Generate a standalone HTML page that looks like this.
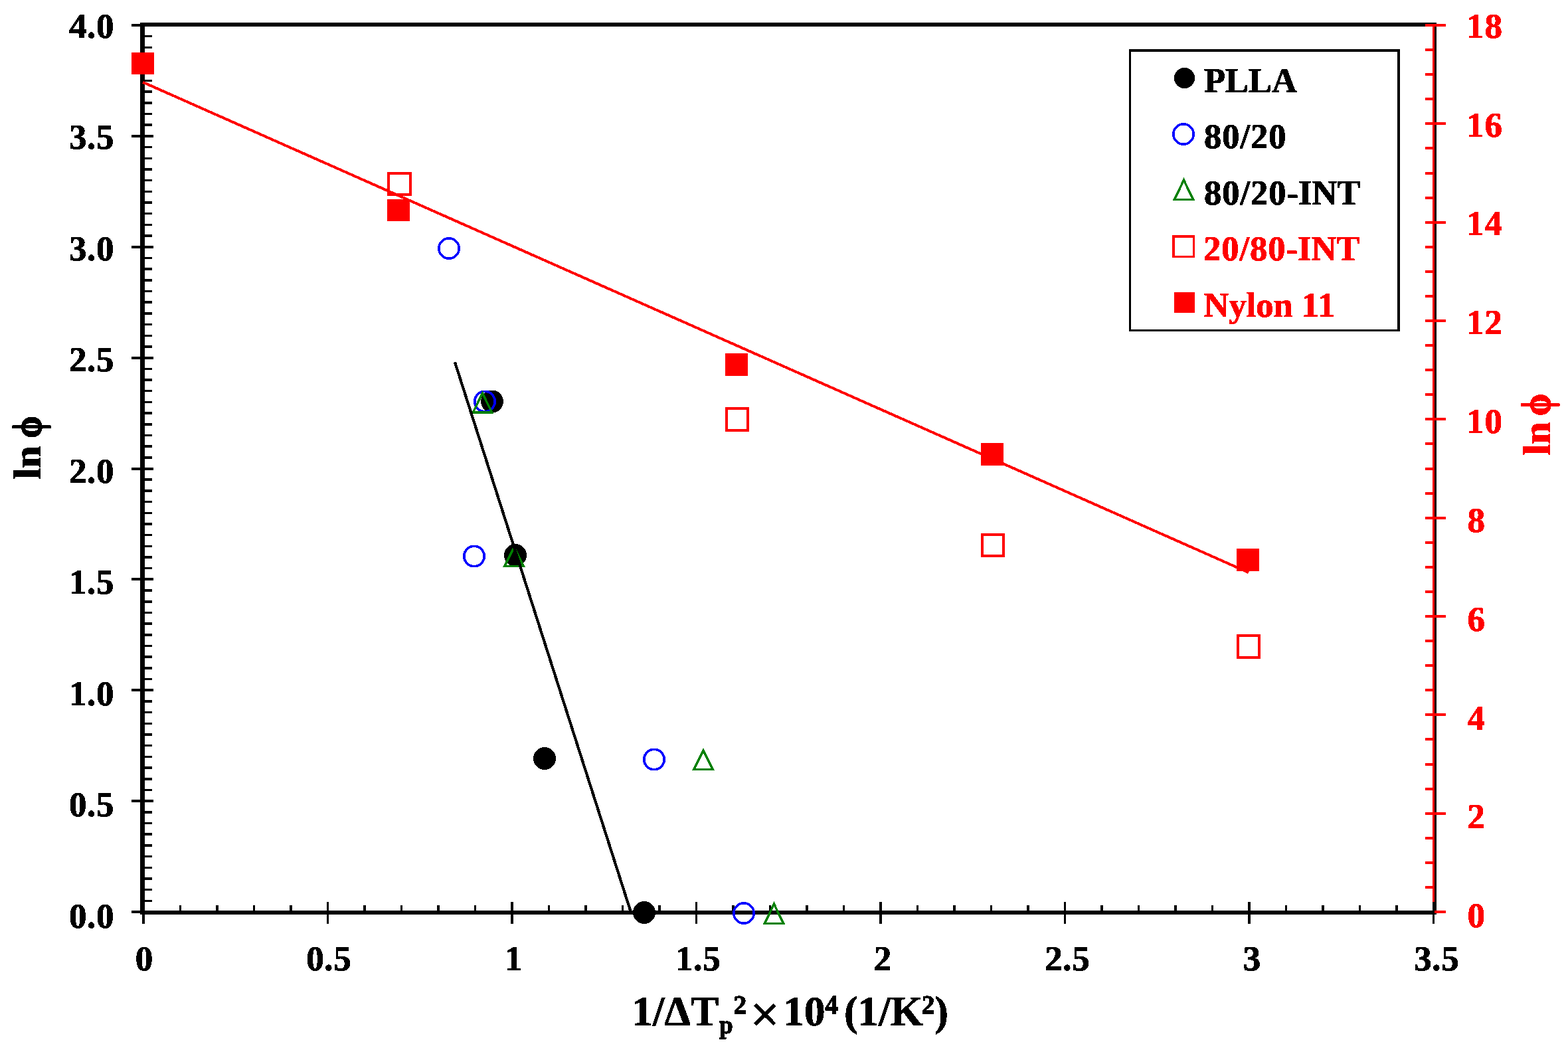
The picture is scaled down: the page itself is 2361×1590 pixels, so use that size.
<!DOCTYPE html>
<html lang="en"><head><meta charset="utf-8"><title>ln ϕ vs 1/ΔTp²</title>
<style>
html,body{margin:0;padding:0;background:#fff;}
body{width:2361px;height:1590px;overflow:hidden;}
svg{display:block;shape-rendering:crispEdges;}
text{font-family:"Liberation Serif","DejaVu Serif",serif;font-weight:bold;}
.tk{font-size:53px;letter-spacing:0.6px;}
.lg{font-size:52.5px;}
.ti{font-size:63px;}
.yt{font-size:60px;}
.sm{font-size:39.5px;stroke-width:0.9px;}
.sb{font-size:37px;stroke-width:0.9px;}
.mu{font-size:76px;font-weight:normal;stroke-width:1.6px;}
.ph{font-size:64.2px;stroke-width:1.2px;}
.ls{letter-spacing:1px;}
.k{fill:#000;stroke:#000;}.r{fill:#f00;stroke:#f00;}
text{stroke-width:0.6px;}
.ax{shape-rendering:crispEdges;}
</style></head><body>
<svg width="2361" height="1590" viewBox="0 0 2361 1590">
<rect width="2361" height="1590" fill="#fff"/>
<defs><filter id="hard" filterUnits="userSpaceOnUse" x="0" y="0" width="2361" height="1590" color-interpolation-filters="sRGB"><feComponentTransfer><feFuncA type="discrete" tableValues="0 1 1"/></feComponentTransfer></filter></defs>
<g class="ax" fill="#000">
<rect x="211" y="34" width="1952" height="6"/>
<rect x="211" y="1371" width="1952" height="6"/>
<rect x="211" y="34" width="7" height="1343"/>
<rect x="2157" y="34" width="6" height="1343"/>
<rect x="198" y="1371.00" width="33" height="4"/>
<rect x="217" y="1354.56" width="12" height="3.5"/>
<rect x="217" y="1337.88" width="12" height="3.5"/>
<rect x="217" y="1321.19" width="12" height="3.5"/>
<rect x="217" y="1304.50" width="12" height="3.5"/>
<rect x="217" y="1287.81" width="12" height="3.5"/>
<rect x="217" y="1271.12" width="12" height="3.5"/>
<rect x="217" y="1254.44" width="12" height="3.5"/>
<rect x="217" y="1237.75" width="12" height="3.5"/>
<rect x="217" y="1221.06" width="12" height="3.5"/>
<rect x="198" y="1204.12" width="33" height="4"/>
<rect x="217" y="1187.69" width="12" height="3.5"/>
<rect x="217" y="1171.00" width="12" height="3.5"/>
<rect x="217" y="1154.31" width="12" height="3.5"/>
<rect x="217" y="1137.62" width="12" height="3.5"/>
<rect x="217" y="1120.94" width="12" height="3.5"/>
<rect x="217" y="1104.25" width="12" height="3.5"/>
<rect x="217" y="1087.56" width="12" height="3.5"/>
<rect x="217" y="1070.88" width="12" height="3.5"/>
<rect x="217" y="1054.19" width="12" height="3.5"/>
<rect x="198" y="1037.25" width="33" height="4"/>
<rect x="217" y="1020.81" width="12" height="3.5"/>
<rect x="217" y="1004.12" width="12" height="3.5"/>
<rect x="217" y="987.44" width="12" height="3.5"/>
<rect x="217" y="970.75" width="12" height="3.5"/>
<rect x="217" y="954.06" width="12" height="3.5"/>
<rect x="217" y="937.38" width="12" height="3.5"/>
<rect x="217" y="920.69" width="12" height="3.5"/>
<rect x="217" y="904.00" width="12" height="3.5"/>
<rect x="217" y="887.31" width="12" height="3.5"/>
<rect x="198" y="870.38" width="33" height="4"/>
<rect x="217" y="853.94" width="12" height="3.5"/>
<rect x="217" y="837.25" width="12" height="3.5"/>
<rect x="217" y="820.56" width="12" height="3.5"/>
<rect x="217" y="803.87" width="12" height="3.5"/>
<rect x="217" y="787.19" width="12" height="3.5"/>
<rect x="217" y="770.50" width="12" height="3.5"/>
<rect x="217" y="753.81" width="12" height="3.5"/>
<rect x="217" y="737.12" width="12" height="3.5"/>
<rect x="217" y="720.44" width="12" height="3.5"/>
<rect x="198" y="703.50" width="33" height="4"/>
<rect x="217" y="687.06" width="12" height="3.5"/>
<rect x="217" y="670.38" width="12" height="3.5"/>
<rect x="217" y="653.69" width="12" height="3.5"/>
<rect x="217" y="637.00" width="12" height="3.5"/>
<rect x="217" y="620.31" width="12" height="3.5"/>
<rect x="217" y="603.62" width="12" height="3.5"/>
<rect x="217" y="586.94" width="12" height="3.5"/>
<rect x="217" y="570.25" width="12" height="3.5"/>
<rect x="217" y="553.56" width="12" height="3.5"/>
<rect x="198" y="536.62" width="33" height="4"/>
<rect x="217" y="520.19" width="12" height="3.5"/>
<rect x="217" y="503.50" width="12" height="3.5"/>
<rect x="217" y="486.81" width="12" height="3.5"/>
<rect x="217" y="470.12" width="12" height="3.5"/>
<rect x="217" y="453.44" width="12" height="3.5"/>
<rect x="217" y="436.75" width="12" height="3.5"/>
<rect x="217" y="420.06" width="12" height="3.5"/>
<rect x="217" y="403.37" width="12" height="3.5"/>
<rect x="217" y="386.69" width="12" height="3.5"/>
<rect x="198" y="369.75" width="33" height="4"/>
<rect x="217" y="353.31" width="12" height="3.5"/>
<rect x="217" y="336.62" width="12" height="3.5"/>
<rect x="217" y="319.94" width="12" height="3.5"/>
<rect x="217" y="303.25" width="12" height="3.5"/>
<rect x="217" y="286.56" width="12" height="3.5"/>
<rect x="217" y="269.88" width="12" height="3.5"/>
<rect x="217" y="253.19" width="12" height="3.5"/>
<rect x="217" y="236.50" width="12" height="3.5"/>
<rect x="217" y="219.81" width="12" height="3.5"/>
<rect x="198" y="202.88" width="33" height="4"/>
<rect x="217" y="186.44" width="12" height="3.5"/>
<rect x="217" y="169.75" width="12" height="3.5"/>
<rect x="217" y="153.06" width="12" height="3.5"/>
<rect x="217" y="136.38" width="12" height="3.5"/>
<rect x="217" y="119.69" width="12" height="3.5"/>
<rect x="217" y="103.00" width="12" height="3.5"/>
<rect x="217" y="86.31" width="12" height="3.5"/>
<rect x="217" y="69.62" width="12" height="3.5"/>
<rect x="217" y="52.94" width="12" height="3.5"/>
<rect x="198" y="36.00" width="33" height="4"/>
<rect x="214.25" y="1358" width="3.5" height="33"/>
<rect x="269.75" y="1363" width="3.5" height="9"/>
<rect x="325.25" y="1363" width="3.5" height="9"/>
<rect x="380.75" y="1363" width="3.5" height="9"/>
<rect x="436.25" y="1363" width="3.5" height="9"/>
<rect x="491.75" y="1358" width="3.5" height="33"/>
<rect x="547.25" y="1363" width="3.5" height="9"/>
<rect x="602.75" y="1363" width="3.5" height="9"/>
<rect x="658.25" y="1363" width="3.5" height="9"/>
<rect x="713.75" y="1363" width="3.5" height="9"/>
<rect x="769.25" y="1358" width="3.5" height="33"/>
<rect x="824.75" y="1363" width="3.5" height="9"/>
<rect x="880.25" y="1363" width="3.5" height="9"/>
<rect x="935.75" y="1363" width="3.5" height="9"/>
<rect x="991.25" y="1363" width="3.5" height="9"/>
<rect x="1046.75" y="1358" width="3.5" height="33"/>
<rect x="1102.25" y="1363" width="3.5" height="9"/>
<rect x="1157.75" y="1363" width="3.5" height="9"/>
<rect x="1213.25" y="1363" width="3.5" height="9"/>
<rect x="1268.75" y="1363" width="3.5" height="9"/>
<rect x="1324.25" y="1358" width="3.5" height="33"/>
<rect x="1379.75" y="1363" width="3.5" height="9"/>
<rect x="1435.25" y="1363" width="3.5" height="9"/>
<rect x="1490.75" y="1363" width="3.5" height="9"/>
<rect x="1546.25" y="1363" width="3.5" height="9"/>
<rect x="1601.75" y="1358" width="3.5" height="33"/>
<rect x="1657.25" y="1363" width="3.5" height="9"/>
<rect x="1712.75" y="1363" width="3.5" height="9"/>
<rect x="1768.25" y="1363" width="3.5" height="9"/>
<rect x="1823.75" y="1363" width="3.5" height="9"/>
<rect x="1879.25" y="1358" width="3.5" height="33"/>
<rect x="1934.75" y="1363" width="3.5" height="9"/>
<rect x="1990.25" y="1363" width="3.5" height="9"/>
<rect x="2045.75" y="1363" width="3.5" height="9"/>
<rect x="2101.25" y="1363" width="3.5" height="9"/>
<rect x="2156.75" y="1358" width="3.5" height="33"/>
</g>
<g class="ax" fill="#f00">
<rect x="2157" y="36" width="3" height="1322"/>
<rect x="2160" y="1371.00" width="17" height="4"/>
<rect x="2146" y="1333.92" width="12" height="4"/>
<rect x="2146" y="1296.83" width="12" height="4"/>
<rect x="2146" y="1259.75" width="12" height="4"/>
<rect x="2146" y="1222.67" width="31" height="4"/>
<rect x="2146" y="1185.58" width="12" height="4"/>
<rect x="2146" y="1148.50" width="12" height="4"/>
<rect x="2146" y="1111.42" width="12" height="4"/>
<rect x="2146" y="1074.33" width="31" height="4"/>
<rect x="2146" y="1037.25" width="12" height="4"/>
<rect x="2146" y="1000.17" width="12" height="4"/>
<rect x="2146" y="963.08" width="12" height="4"/>
<rect x="2146" y="926.00" width="31" height="4"/>
<rect x="2146" y="888.92" width="12" height="4"/>
<rect x="2146" y="851.83" width="12" height="4"/>
<rect x="2146" y="814.75" width="12" height="4"/>
<rect x="2146" y="777.67" width="31" height="4"/>
<rect x="2146" y="740.58" width="12" height="4"/>
<rect x="2146" y="703.50" width="12" height="4"/>
<rect x="2146" y="666.42" width="12" height="4"/>
<rect x="2146" y="629.33" width="31" height="4"/>
<rect x="2146" y="592.25" width="12" height="4"/>
<rect x="2146" y="555.17" width="12" height="4"/>
<rect x="2146" y="518.08" width="12" height="4"/>
<rect x="2146" y="481.00" width="31" height="4"/>
<rect x="2146" y="443.92" width="12" height="4"/>
<rect x="2146" y="406.83" width="12" height="4"/>
<rect x="2146" y="369.75" width="12" height="4"/>
<rect x="2146" y="332.67" width="31" height="4"/>
<rect x="2146" y="295.58" width="12" height="4"/>
<rect x="2146" y="258.50" width="12" height="4"/>
<rect x="2146" y="221.42" width="12" height="4"/>
<rect x="2146" y="184.33" width="31" height="4"/>
<rect x="2146" y="147.25" width="12" height="4"/>
<rect x="2146" y="110.17" width="12" height="4"/>
<rect x="2146" y="73.08" width="12" height="4"/>
<rect x="2146" y="36.00" width="31" height="4"/>
</g>
<rect class="ax" x="2157" y="1358" width="3" height="33" fill="#000"/>
<g filter="url(#hard)">
<g class="tk k" text-anchor="end">
<text x="172" y="1396.5">0.0</text>
<text x="172" y="1229.0">0.5</text>
<text x="172" y="1061.5">1.0</text>
<text x="172" y="894.0">1.5</text>
<text x="172" y="726.5">2.0</text>
<text x="172" y="559.0">2.5</text>
<text x="172" y="391.5">3.0</text>
<text x="172" y="224.0">3.5</text>
<text x="172" y="56.5">4.0</text>
</g>
<g class="tk r">
<text x="2209.5" y="1396.2">0</text>
<text x="2209.5" y="1247.4">2</text>
<text x="2209.5" y="1098.5">4</text>
<text x="2209.5" y="949.7">6</text>
<text x="2209.5" y="800.8">8</text>
<text x="2208" y="652.0" class="ls">10</text>
<text x="2208" y="503.2" class="ls">12</text>
<text x="2208" y="354.3" class="ls">14</text>
<text x="2208" y="205.5" class="ls">16</text>
<text x="2208" y="56.6" class="ls">18</text>
</g>
<g class="tk k" text-anchor="middle">
<text x="217.3" y="1460.7">0</text>
<text x="495.3" y="1460.7">0.5</text>
<text x="773.3" y="1460.7">1</text>
<text x="1051.3" y="1460.7">1.5</text>
<text x="1329.3" y="1460.7">2</text>
<text x="1607.3" y="1460.7">2.5</text>
<text x="1885.3" y="1460.7">3</text>
<text x="2163.3" y="1460.7">3.5</text>
</g>
<text class="yt k" transform="translate(61,721.5) rotate(-90)"><tspan x="0" y="0">ln </tspan><tspan class="ph" x="62" y="0.6" textLength="33.1" lengthAdjust="spacingAndGlyphs">ϕ</tspan></text>
<text class="yt r" transform="translate(2334,685.5) rotate(-90)"><tspan x="0" y="0">ln </tspan><tspan class="ph" x="59.5" y="0.1" textLength="33.1" lengthAdjust="spacingAndGlyphs">ϕ</tspan></text>
<text class="ti k"><tspan x="951.5" y="1544">1/ΔT</tspan><tspan class="sb" x="1083" y="1556">p</tspan><tspan class="sm" x="1104.5" y="1525.7">2</tspan><tspan class="mu" x="1130.2" y="1553.2">×</tspan><tspan x="1179.6" y="1544">10</tspan><tspan class="sm" x="1242.3" y="1525.7">4</tspan><tspan x="1270.9" y="1544">(1/K</tspan><tspan class="sm" x="1387.7" y="1525.7">2</tspan><tspan x="1407" y="1544">)</tspan></text>
</g>
<g>
<circle cx="741" cy="604.5" r="17" fill="#000"/>
<circle cx="776" cy="836" r="17" fill="#000"/>
<circle cx="820" cy="1142" r="17" fill="#000"/>
<circle cx="970" cy="1374" r="17" fill="#000"/>
<circle cx="676" cy="374" r="15.2" fill="none" stroke="#00f" stroke-width="3.6"/>
<circle cx="730" cy="604.5" r="15.2" fill="none" stroke="#00f" stroke-width="3.6"/>
<circle cx="714" cy="837.5" r="15.2" fill="none" stroke="#00f" stroke-width="3.6"/>
<circle cx="985" cy="1143.5" r="15.2" fill="none" stroke="#00f" stroke-width="3.6"/>
<circle cx="1120" cy="1375" r="15.2" fill="none" stroke="#00f" stroke-width="3.6"/>
<path d="M726.50 592.30 L740.60 620.75 L712.40 620.75 Z" fill="none" stroke="#008000" stroke-width="3.5" stroke-linejoin="miter" stroke-miterlimit="10"/>
<path d="M774.00 823.80 L788.10 852.25 L759.90 852.25 Z" fill="none" stroke="#008000" stroke-width="3.5" stroke-linejoin="miter" stroke-miterlimit="10"/>
<path d="M1059.00 1130.30 L1073.10 1158.25 L1044.90 1158.25 Z" fill="none" stroke="#008000" stroke-width="3.5" stroke-linejoin="miter" stroke-miterlimit="10"/>
<path d="M1165.50 1361.30 L1179.60 1390.25 L1151.40 1390.25 Z" fill="none" stroke="#008000" stroke-width="3.5" stroke-linejoin="miter" stroke-miterlimit="10"/>
<rect x="584.8" y="260.8" width="33.4" height="32.4" fill="none" stroke="#f00" stroke-width="3.6"/>
<rect x="1093.8" y="614.8" width="32.4" height="33.4" fill="none" stroke="#f00" stroke-width="3.6"/>
<rect x="1478.8" y="804.8" width="32.4" height="32.4" fill="none" stroke="#f00" stroke-width="3.6"/>
<rect x="1863.8" y="956.8" width="32.4" height="33.4" fill="none" stroke="#f00" stroke-width="3.6"/>
<rect x="198" y="79" width="34" height="33" fill="#f00"/>
<rect x="583" y="300" width="34" height="33" fill="#f00"/>
<rect x="1092" y="532" width="34" height="34" fill="#f00"/>
<rect x="1477" y="667" width="34" height="34" fill="#f00"/>
<rect x="1862" y="826" width="34" height="34" fill="#f00"/>
<line x1="215" y1="123.7" x2="1880" y2="862" stroke="#f00" stroke-width="4"/>
<line x1="685.5" y1="547" x2="949.5" y2="1372" stroke="#000" stroke-width="4.2" stroke-linecap="round"/>
</g>
<g>
<rect x="1700" y="74" width="408" height="425" fill="#000"/>
<rect x="1703" y="78" width="401" height="418" fill="#fff"/>
<circle cx="1783.5" cy="117.5" r="15.6" fill="#000"/>
<circle cx="1782" cy="202" r="15.2" fill="none" stroke="#00f" stroke-width="3.6"/>
<path d="M1782.50 271.30 L1796.60 300.25 L1768.40 300.25 Z" fill="none" stroke="#008000" stroke-width="3.5" stroke-linejoin="miter" stroke-miterlimit="10"/>
<path d="M1765 354H1799V388H1765Z M1769 358V384.5H1796V358Z" fill="#f00" fill-rule="evenodd"/>
<rect x="1768" y="440" width="31" height="31" fill="#f00"/>
<g filter="url(#hard)">
<text class="lg k" x="1813" y="139">PLLA</text>
<text class="lg k ls" x="1813" y="223">80/20</text>
<text class="lg k" x="1813" y="308"><tspan class="ls">80/20</tspan>-INT</text>
<text class="lg r" x="1812" y="392"><tspan class="ls">20/80</tspan>-INT</text>
<text class="lg r" x="1812.5" y="477">Nylon <tspan class="ls">11</tspan></text>
</g>
</g>
</svg>
</body></html>
